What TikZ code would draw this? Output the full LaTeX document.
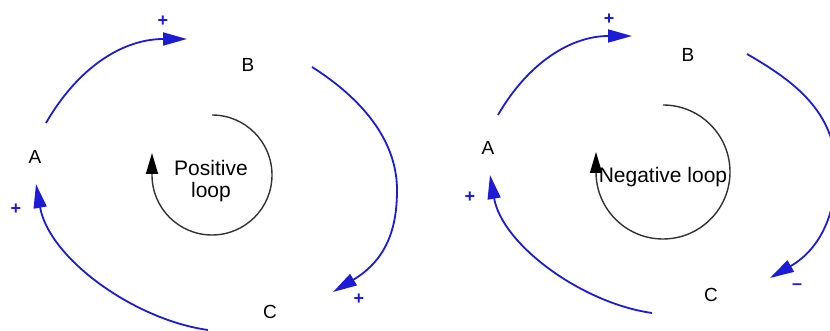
\documentclass[tikz,border=0pt]{standalone}
\usepackage{fontspec}
\setmainfont{Liberation Sans}
\usetikzlibrary{arrows.meta}
\definecolor{linkblue}{RGB}{28,28,215}
\definecolor{loopgray}{RGB}{50,50,50}
\begin{document}
\begin{tikzpicture}[x=1pt,y=1pt,
  var/.style={inner sep=0pt, font=\fontsize{19}{21}\selectfont},
  looplabel/.style={inner sep=0pt, align=center, font=\fontsize{21}{22}\selectfont},
  polarity/.style={inner sep=0pt, text=linkblue, font=\fontsize{18}{20}\selectfont\bfseries},
  link/.style={draw=linkblue, line width=1.8pt, -{Triangle[length=24pt,width=13pt]}},
  loopc/.style={draw=loopgray, line width=1.4pt, -{Triangle[length=21pt,width=12pt,color=black]}}]
\useasboundingbox (0,0) rectangle (830,331);
% ---------- left: positive loop ----------
\node[var] (A1) at (35,174) {A};
\node[var] (B1) at (248,266) {B};
\node[var] (C1) at (270,19) {C};
\coordinate (ab1s) at (46,208);
\coordinate (ab1e) at (187,292);
\coordinate (bc1s) at (312,264);
\coordinate (bc1m) at (397,141);
\coordinate (bc1e) at (333,39);
\coordinate (ca1s) at (208,1);
\coordinate (ca1e) at (36,147);
\draw[link] (ab1s) to[out=60,in=180] (ab1e);
\draw[link] (bc1s) .. controls (354,237.5) and (397,196) .. (bc1m)
                   .. controls (397,106) and (388.7,72.5) .. (bc1e);
\draw[link] (ca1s) to[out=172,in=-80,looseness=0.85] (ca1e);
\node[polarity] (p1) at (163,310) {+};
\node[polarity] (p2) at (359,32) {+};
\node[polarity] (p3) at (16,122) {+};
\draw[loopc] (212,216) arc[start angle=90,end angle=-180,radius=60] -- ++(0,22);
\node[looplabel, anchor=north] (L1) at (211,171) {Positive\\loop};
% ---------- right: negative loop ----------
\node[var] (A2) at (488,183) {A};
\node[var] (B2) at (688,276) {B};
\node[var] (C2) at (711,36) {C};
\coordinate (ab2s) at (498,216);
\coordinate (ab2e) at (632,295);
\coordinate (bc2s) at (747,277);
\coordinate (bc2m) at (836,160);
\coordinate (bc2e) at (770,53);
\coordinate (ca2s) at (652,18);
\coordinate (ca2e) at (490,156);
\draw[link] (ab2s) to[out=60,in=180] (ab2e);
\draw[link] (bc2s) .. controls (792,251) and (836,220) .. (bc2m)
                   .. controls (836,120) and (822,83) .. (bc2e);
\draw[link] (ca2s) to[out=172,in=-80,looseness=0.85] (ca2e);
\node[polarity] (p4) at (609,312) {+};
\node[polarity] (p5) at (797,44) {–};
\node[polarity] (p6) at (470,134) {+};
\draw[loopc] (663,226) arc[start angle=90,end angle=-180,radius=67] -- ++(0,20);
\node[looplabel, anchor=base] (L2) at (663,148) {Negative loop};
\end{tikzpicture}
\end{document}
